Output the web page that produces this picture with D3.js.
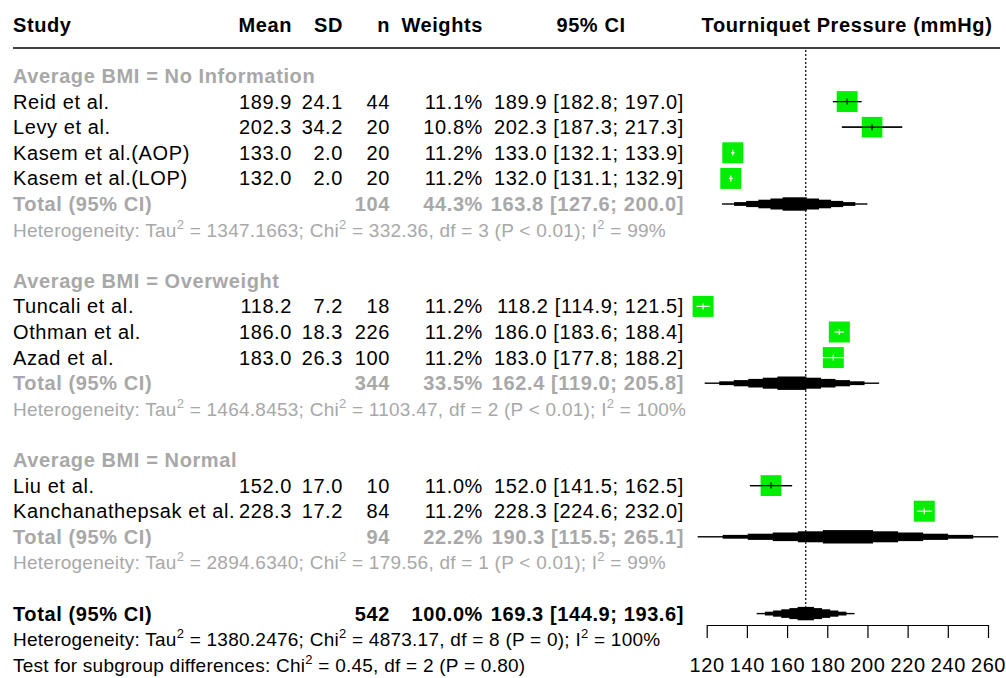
<!DOCTYPE html>
<meta charset="utf-8">
<style>
body { margin: 0; background: #fff; }
text { font-family: "Liberation Sans", Arial, sans-serif; font-size: 20px; letter-spacing: 0.6px; }
.bold { font-weight: bold; }
.grey { fill: #a8a8a8; }
.het { font-size: 19px; letter-spacing: 0.25px; }
</style>
<svg width="1006" height="678"></svg>
<script src="https://d3js.org/d3.v7.min.js"></script>
<script>
// study level data
var groups = ["Average BMI = No Information", "Average BMI = Overweight", "Average BMI = Normal"];
var studies = ["Reid et al.", "Levy et al.", "Kasem et al.(AOP)", "Kasem et al.(LOP)",
               "Tuncali et al.", "Othman et al.", "Azad et al.",
               "Liu et al.", "Kanchanathepsak et al."];
var studyGroup = [0, 0, 0, 0, 1, 1, 1, 2, 2];
var means   = [189.9, 202.3, 133.0, 132.0, 118.2, 186.0, 183.0, 152.0, 228.3];
var sds     = [24.1, 34.2, 2.0, 2.0, 7.2, 18.3, 26.3, 17.0, 17.2];
var ns      = [44, 20, 20, 20, 18, 226, 100, 10, 84];
var weights = [11.1, 10.8, 11.2, 11.2, 11.2, 11.2, 11.2, 11.0, 11.2];
var lower   = [182.8, 187.3, 132.1, 131.1, 114.9, 183.6, 177.8, 141.5, 224.6];
var upper   = [197.0, 217.3, 133.9, 132.9, 121.5, 188.4, 188.2, 162.5, 232.0];

// subgroup totals
var groupN      = [104, 344, 94];
var groupWeight = [44.3, 33.5, 22.2];
var groupEst    = [163.8, 162.4, 190.3];
var groupLower  = [127.6, 119.0, 115.5];
var groupUpper  = [200.0, 205.8, 265.1];
var groupTau2   = ["1347.1663", "1464.8453", "2894.6340"];
var groupChi2   = ["332.36", "1103.47", "179.56"];
var groupDf     = [3, 2, 1];
var groupP      = ["P < 0.01", "P < 0.01", "P < 0.01"];
var groupI2     = ["99%", "100%", "99%"];

// overall
var totalN = 542, totalWeight = 100.0, totalEst = 169.3, totalLower = 144.9, totalUpper = 193.6;
var totalHet = { tau2: "1380.2476", chi2: "4873.17", df: 8, p: "P = 0", i2: "100%" };
var subgroupTest = { chi2: "0.45", df: 2, p: "P = 0.80" };

var ticks = [120, 140, 160, 180, 200, 220, 240, 260];

var svg = d3.select("svg");
var x = d3.scaleLinear().domain([120, 260]).range([706.7, 988]);
var y = d3.scaleLinear().domain([0, 23]).range([76, 664.8]);
var f1 = d3.format(".1f");

// columns (right edges)
var col = { study: 13, mean: 292, sd: 343, n: 390, w: 483, ci: 684 };

function txt(xx, yy, s, anchor, cls) {
  return svg.append("text")
      .attr("x", xx).attr("y", yy + 7)
      .attr("text-anchor", anchor || "start")
      .attr("class", cls || "")
      .text(s);
}
// text with superscript 2s, parts = [text, sup, text, sup ...]
function hetText(yy, parts, cls) {
  var t = svg.append("text").attr("x", col.study).attr("y", yy + 7).attr("class", "het " + (cls || ""));
  parts.forEach(function(p, i) {
    var ts = t.append("tspan").text(p);
    if (i % 2 == 1) ts.attr("dy", -8).style("font-size", "13px");
    else if (i > 0) ts.attr("dy", 8);
  });
  return t;
}
function ciLabel(e, l, u) { return f1(e) + " [" + f1(l) + "; " + f1(u) + "]"; }

// header
txt(col.study, 25, "Study", "start", "bold");
txt(col.mean, 25, "Mean", "end", "bold");
txt(col.sd, 25, "SD", "end", "bold");
txt(col.n, 25, "n", "end", "bold");
txt(col.w, 25, "Weights", "end", "bold");
txt(591, 25, "95% CI", "middle", "bold");
txt(847, 25, "Tourniquet Pressure (mmHg)", "middle", "bold");
svg.append("line").attr("x1", 13).attr("x2", 1000).attr("y1", 48).attr("y2", 48)
    .attr("stroke", "#000").attr("stroke-width", 1.3);

// reference line at overall estimate
svg.append("line").attr("x1", x(totalEst)).attr("x2", x(totalEst))
    .attr("y1", 50).attr("y2", y(21) - 6)
    .attr("stroke", "#000").attr("stroke-dasharray", "2,2").attr("stroke-width", 1.2);

// stepped diamond, like the rasterised polygon of the original
function diamond(k, est, lo, hi) {
  var yy = y(k);
  for (var j = 0; j < 6; j++) {
    var f = 1 - j / 6, hh = j == 0 ? 0.7 : 0.7 + 1.2 * j;
    var x0 = x(est) - (x(est) - x(lo)) * f, x1 = x(est) + (x(hi) - x(est)) * f;
    svg.append("rect").attr("x", x0).attr("y", yy - hh)
        .attr("width", x1 - x0).attr("height", 2 * hh).attr("fill", "#000");
  }
}

var row = 0;
groups.forEach(function(g, gi) {
  txt(col.study, y(row), g, "start", "bold grey");
  row++;
  studies.forEach(function(s, i) {
    if (studyGroup[i] != gi) return;
    var yy = y(row);
    txt(col.study, yy, s);
    txt(col.mean, yy, f1(means[i]), "end");
    txt(col.sd, yy, f1(sds[i]), "end");
    txt(col.n, yy, ns[i], "end");
    txt(col.w, yy, f1(weights[i]) + "%", "end");
    txt(col.ci, yy, ciLabel(means[i], lower[i], upper[i]), "end");

    var side = 21 * Math.sqrt(weights[i] / 11.2);
    var inside = (x(upper[i]) - x(lower[i])) < side;
    if (!inside) {
      svg.append("line").attr("x1", x(lower[i])).attr("x2", x(upper[i]))
          .attr("y1", yy).attr("y2", yy).attr("stroke", "#000").attr("stroke-width", 1.2);
    }
    svg.append("rect")
        .attr("x", x(means[i]) - side / 2).attr("y", yy - side / 2)
        .attr("width", side).attr("height", side).attr("fill", "#00ee00");
    var lc = inside ? "#fff" : "#000";
    svg.append("line").attr("x1", x(lower[i])).attr("x2", x(upper[i]))
        .attr("y1", yy).attr("y2", yy).attr("stroke", lc).attr("stroke-width", 1.2);
    svg.append("line").attr("x1", x(means[i])).attr("x2", x(means[i]))
        .attr("y1", yy - 3).attr("y2", yy + 3).attr("stroke", lc).attr("stroke-width", 1.2);
    row++;
  });
  var ty = y(row);
  txt(col.study, ty, "Total (95% CI)", "start", "bold grey");
  txt(col.n, ty, groupN[gi], "end", "bold grey");
  txt(col.w, ty, f1(groupWeight[gi]) + "%", "end", "bold grey");
  txt(col.ci, ty, ciLabel(groupEst[gi], groupLower[gi], groupUpper[gi]), "end", "bold grey");
  diamond(row, groupEst[gi], groupLower[gi], groupUpper[gi]);
  row++;
  hetText(y(row), ["Heterogeneity: Tau", "2", " = " + groupTau2[gi] + "; Chi", "2",
    " = " + groupChi2[gi] + ", df = " + groupDf[gi] + " (" + groupP[gi] + "); I", "2",
    " = " + groupI2[gi]], "grey");
  row += 2;
});

// overall
var oy = y(row);
txt(col.study, oy, "Total (95% CI)", "start", "bold");
txt(col.n, oy, totalN, "end", "bold");
txt(col.w, oy, f1(totalWeight) + "%", "end", "bold");
txt(col.ci, oy, ciLabel(totalEst, totalLower, totalUpper), "end", "bold");
diamond(row, totalEst, totalLower, totalUpper);
row++;
hetText(y(row), ["Heterogeneity: Tau", "2", " = " + totalHet.tau2 + "; Chi", "2",
  " = " + totalHet.chi2 + ", df = " + totalHet.df + " (" + totalHet.p + "); I", "2",
  " = " + totalHet.i2]);
row++;
hetText(y(row), ["Test for subgroup differences: Chi", "2",
  " = " + subgroupTest.chi2 + ", df = " + subgroupTest.df + " (" + subgroupTest.p + ")"]);

// axis
var axis = d3.axisBottom(x).tickValues(ticks).tickSize(13).tickPadding(20).tickSizeOuter(0);
var ag = svg.append("g").attr("transform", "translate(0,625)").call(axis);
ag.selectAll("text").style("font-size", "20px").attr("fill", "#000")
    .style("font-family", "'Liberation Sans', Arial, sans-serif");
ag.selectAll("line, path").attr("stroke", "#000").attr("stroke-width", 1.2);
</script>
